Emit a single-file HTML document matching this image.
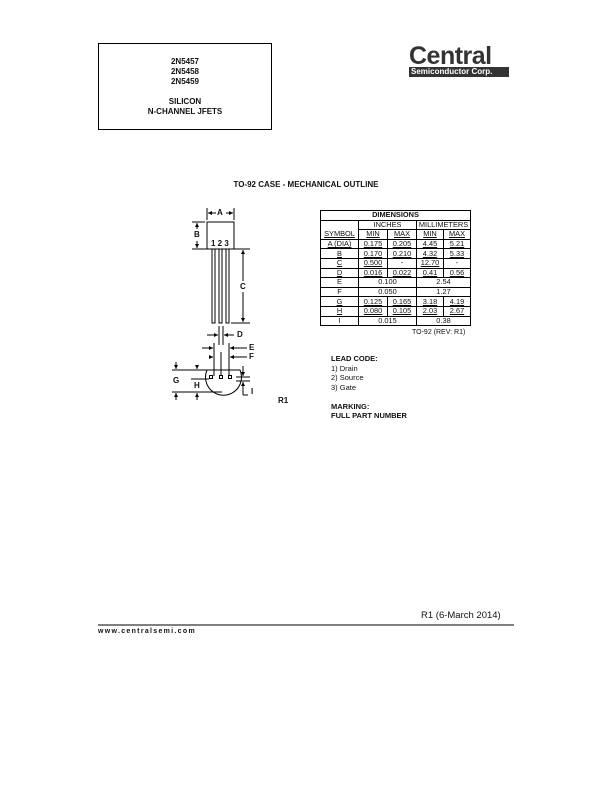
<!DOCTYPE html>
<html><head><meta charset="utf-8"><style>
body{margin:0;background:#fff;}
.p{position:relative;width:612px;height:792px;font-family:"Liberation Sans",Arial,sans-serif;color:#111;overflow:hidden}
.a{position:absolute;white-space:nowrap}
table{position:absolute;left:320px;top:210px;border-collapse:collapse;font-size:7.4px;}
td{border:1px solid #000;text-align:center;padding:0;height:8.6px;line-height:8px}
td.u{text-decoration:underline}
</style></head><body><div class="p">
<div class="a" style="left:98px;top:43px;width:172px;height:85px;border:1px solid #000"></div>
<div class="a" style="left:98px;top:57px;width:174px;text-align:center;font-size:8px;font-weight:bold;line-height:10px">2N5457<br>2N5458<br>2N5459<br><br>SILICON<br>N-CHANNEL JFETS</div>
<div class="a" style="left:409px;top:42px;font-size:25px;font-weight:900;letter-spacing:-0.5px;line-height:28px;color:#333">Central</div>
<div class="a" style="left:409px;top:67px;width:100px;height:10px;background:#333"></div>
<div class="a" style="left:411px;top:67px;font-size:8px;font-weight:bold;color:#fff;line-height:10px">Semiconductor Corp.</div>
<div class="a" style="left:0;width:612px;top:180px;text-align:center;font-size:8px;font-weight:bold">TO-92 CASE - MECHANICAL OUTLINE</div>
<svg class="a" style="left:0;top:0" width="612" height="792" stroke="#000" fill="none" stroke-width="1">
<rect x="207" y="222" width="27" height="27"/>
<rect x="212" y="249" width="3" height="74"/><rect x="219" y="249" width="3" height="74"/><rect x="226" y="249" width="3" height="74"/>
<line x1="207" y1="208" x2="207" y2="220"/><line x1="234" y1="208" x2="234" y2="220"/>
<line x1="208" y1="213" x2="216" y2="213"/><line x1="226" y1="213" x2="233" y2="213"/>
<line x1="192" y1="222" x2="205" y2="222"/><line x1="192" y1="249" x2="210" y2="249"/>
<line x1="197" y1="223" x2="197" y2="229"/><line x1="197" y1="241" x2="197" y2="248"/>
<line x1="231" y1="249" x2="250" y2="249"/><line x1="231" y1="323" x2="250" y2="323"/>
<line x1="243" y1="250" x2="243" y2="281"/><line x1="243" y1="292" x2="243" y2="322"/>
<line x1="219" y1="326" x2="219" y2="345"/><line x1="223" y1="326" x2="223" y2="345"/>
<line x1="207" y1="335" x2="218" y2="335"/><line x1="224" y1="335" x2="234" y2="335"/>
<line x1="214" y1="343" x2="214" y2="376"/><line x1="221" y1="352" x2="221" y2="376"/><line x1="229" y1="343" x2="229" y2="376"/>
<line x1="202" y1="348" x2="213" y2="348"/><line x1="230" y1="348" x2="247" y2="348"/>
<line x1="210" y1="357" x2="213" y2="357"/><line x1="230" y1="357" x2="247" y2="357"/>
<path d="M207 370 A18 18 0 1 0 240 370 Z"/>
<rect x="209.5" y="375.5" width="3" height="3"/><rect x="219.5" y="375.5" width="3" height="3"/><rect x="228.5" y="375.5" width="3" height="3"/>
<line x1="172" y1="370" x2="207" y2="370"/><line x1="172" y1="392" x2="222" y2="392"/>
<line x1="176" y1="362" x2="176" y2="369"/><line x1="176" y1="393" x2="176" y2="400"/>
<line x1="191" y1="379" x2="209" y2="379"/>
<line x1="197" y1="365" x2="197" y2="369"/><line x1="197" y1="393" x2="197" y2="400"/>
<line x1="236" y1="377" x2="250" y2="377"/><line x1="236" y1="381" x2="250" y2="381"/>
<line x1="243" y1="366" x2="243" y2="376"/><line x1="243" y1="382" x2="243" y2="395"/><line x1="243" y1="395" x2="248" y2="395"/>
<line x1="98" y1="625" x2="514" y2="625"/>
</svg>
<svg class="a" style="left:0;top:0" width="612" height="792" fill="#000">
<path d="M208 213l4-2v4zM233 213l-4-2v4zM197 223l-2 4h4zM197 248l-2-4h4zM243 250l-2 4h4zM243 322l-2-4h4zM218 335l-4-2v4zM224 335l4-2v4zM213 348l-4-2v4zM230 348l4-2v4zM213 357l-4-2v4zM230 357l4-2v4zM176 369l-2-4h4zM176 393l-2 4h4zM197 369l-2-4h4zM197 393l-2 4h4zM243 376l-2-4h4zM243 382l-2 4h4z"/>
</svg>
<div class="a" style="left:217px;top:208px;font-size:8px;font-weight:bold">A</div>
<div class="a" style="left:194px;top:230px;font-size:8px;font-weight:bold">B</div>
<div class="a" style="left:211px;top:239px;font-size:8px;font-weight:bold">1 2 3</div>
<div class="a" style="left:240px;top:282px;font-size:8px;font-weight:bold">C</div>
<div class="a" style="left:237px;top:330px;font-size:8px;font-weight:bold">D</div>
<div class="a" style="left:249px;top:343px;font-size:8px;font-weight:bold">E</div>
<div class="a" style="left:249px;top:352px;font-size:8px;font-weight:bold">F</div>
<div class="a" style="left:173px;top:376px;font-size:8px;font-weight:bold">G</div>
<div class="a" style="left:194px;top:381px;font-size:8px;font-weight:bold">H</div>
<div class="a" style="left:251px;top:387px;font-size:8px;font-weight:bold">I</div>
<div class="a" style="left:278px;top:396px;font-size:8px;font-weight:bold">R1</div>
<table>
<tr><td colspan="5" style="width:149px;font-weight:bold">DIMENSIONS</td></tr>
<tr><td style="width:37px;border-bottom:none"></td><td colspan="2">INCHES</td><td colspan="2">MILLIMETERS</td></tr>
<tr><td class="u" style="border-top:none">SYMBOL</td><td class="u" style="width:28px">MIN</td><td class="u" style="width:28px">MAX</td><td class="u" style="width:26px">MIN</td><td class="u" style="width:26px">MAX</td></tr>
<tr><td class="u">A (DIA)</td><td class="u">0.175</td><td class="u">0.205</td><td class="u">4.45</td><td class="u">5.21</td></tr>
<tr><td class="u">B</td><td class="u">0.170</td><td class="u">0.210</td><td class="u">4.32</td><td class="u">5.33</td></tr>
<tr><td class="u">C</td><td class="u">0.500</td><td>-</td><td class="u">12.70</td><td>-</td></tr>
<tr><td class="u">D</td><td class="u">0.016</td><td class="u">0.022</td><td class="u">0.41</td><td class="u">0.56</td></tr>
<tr><td>E</td><td colspan="2">0.100</td><td colspan="2">2.54</td></tr>
<tr><td>F</td><td colspan="2">0.050</td><td colspan="2">1.27</td></tr>
<tr><td class="u">G</td><td class="u">0.125</td><td class="u">0.165</td><td class="u">3.18</td><td class="u">4.19</td></tr>
<tr><td class="u">H</td><td class="u">0.080</td><td class="u">0.105</td><td class="u">2.03</td><td class="u">2.67</td></tr>
<tr><td>I</td><td colspan="2">0.015</td><td colspan="2">0.38</td></tr>
</table>
<div class="a" style="left:412px;top:329px;font-size:7px">TO-92 (REV: R1)</div>
<div class="a" style="left:331px;top:354px;font-size:7.5px;line-height:9.5px"><b>LEAD CODE:</b><br>1) Drain<br>2) Source<br>3) Gate<br><br><b>MARKING:</b><br><b>FULL PART NUMBER</b></div>
<div class="a" style="left:421px;top:610px;font-size:9.5px">R1 (6-March 2014)</div>
<div class="a" style="left:98px;top:628px;font-size:7px;font-weight:bold;letter-spacing:1.3px">www.centralsemi.com</div>
</div></body></html>
